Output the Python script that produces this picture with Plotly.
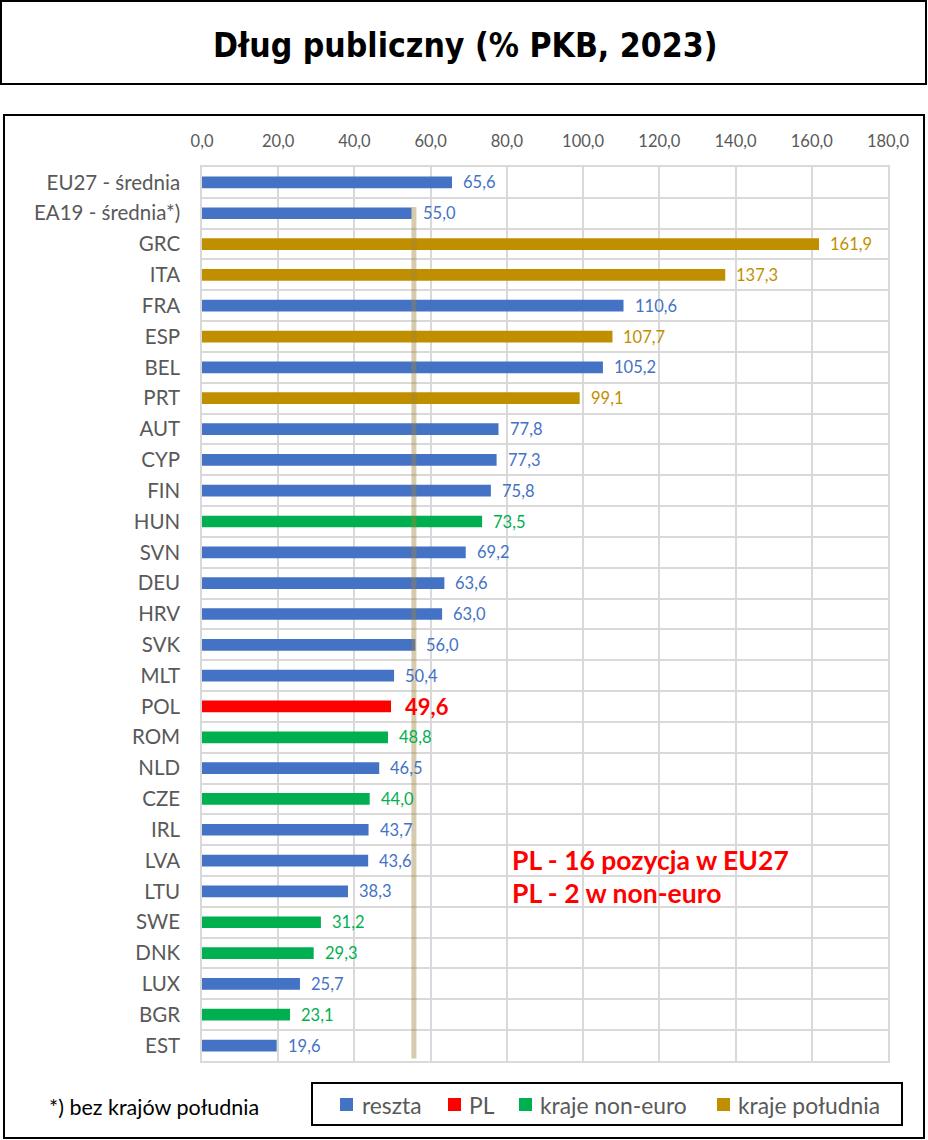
import plotly.graph_objects as go

# ---------------- data ----------------
categories = ["EU27 - średnia", "EA19 - średnia*)", "GRC", "ITA", "FRA", "ESP", "BEL", "PRT",
              "AUT", "CYP", "FIN", "HUN", "SVN", "DEU", "HRV", "SVK", "MLT", "POL", "ROM",
              "NLD", "CZE", "IRL", "LVA", "LTU", "SWE", "DNK", "LUX", "BGR", "EST"]
values = [65.6, 55.0, 161.9, 137.3, 110.6, 107.7, 105.2, 99.1, 77.8, 77.3, 75.8, 73.5, 69.2,
          63.6, 63.0, 56.0, 50.4, 49.6, 48.8, 46.5, 44.0, 43.7, 43.6, 38.3, 31.2, 29.3, 25.7,
          23.1, 19.6]
groups = ["reszta", "reszta", "kraje południa", "kraje południa", "reszta", "kraje południa",
          "reszta", "kraje południa", "reszta", "reszta", "reszta", "kraje non-euro", "reszta",
          "reszta", "reszta", "reszta", "reszta", "PL", "kraje non-euro", "reszta",
          "kraje non-euro", "reszta", "reszta", "reszta", "kraje non-euro", "kraje non-euro",
          "reszta", "kraje non-euro", "reszta"]
group_names = ["reszta", "PL", "kraje non-euro", "kraje południa"]
group_colors = {"reszta": "#4472C4", "PL": "#FF0000", "kraje non-euro": "#00B050",
                "kraje południa": "#BF8F00"}
x_ticks = [0, 20, 40, 60, 80, 100, 120, 140, 160, 180]
ref_line_value = 55.6  # vertical reference band (EA19 level)

title_text = "Dług publiczny (% PKB, 2023)"
note_text = "*) bez krajów południa"
pl_notes = ["PL - 16 pozycja w EU27", "PL - 2 w non-euro"]

# ---------------- layout constants ----------------
W, H = 928, 1140
L, R, T, B = 202, 888, 167, 1061
FONT = "Lato, Calibri, Carlito, sans-serif"
GRAY = "#595959"
GRID = "#D9D9D9"


def px2x(px):
    return (px - L) / (R - L)


def py2y(py):
    return (B - py) / (B - T)


fmt = lambda v: f"{v:.1f}".replace(".", ",")

fig = go.Figure()
for g in group_names:
    ys = [c for c, gg in zip(categories, groups) if gg == g]
    xs = [v for v, gg in zip(values, groups) if gg == g]
    fig.add_trace(go.Bar(x=xs, y=ys, orientation="h", name=g,
                         marker=dict(color=group_colors[g], line=dict(width=0)),
                         showlegend=False, hoverinfo="x+y"))

annotations = []
# value labels
for c, v, g in zip(categories, values, groups):
    if g == "PL":
        font = dict(family=FONT, size=22, color=group_colors[g], weight="bold")
        xs = 12
    else:
        font = dict(family=FONT, size=16.5, color=group_colors[g])
        xs = 9
    annotations.append(dict(x=v, y=c, xref="x", yref="y", text=fmt(v), showarrow=False,
                            xanchor="left", yanchor="middle", xshift=xs, font=font))

# title
annotations.append(dict(x=px2x(465), y=py2y(46), xref="paper", yref="paper", text=title_text,
                        showarrow=False, xanchor="center", yanchor="middle",
                        font=dict(family="DejaVu Sans Condensed, Roboto",
                                  size=33.5, color="black", weight="bold")))
# PL notes
for i, t in enumerate(pl_notes):
    annotations.append(dict(x=px2x(510), y=py2y(860 + 33 * i), xref="paper", yref="paper",
                            text=t, showarrow=False, xanchor="left", yanchor="middle",
                            font=dict(family=FONT, size=26.5, color="#FF0000", weight="bold")))
# footnote
annotations.append(dict(x=px2x(47), y=py2y(1107), xref="paper", yref="paper", text=note_text,
                        showarrow=False, xanchor="left", yanchor="middle",
                        font=dict(family=FONT, size=21.5, color="black")))

shapes = []
# reference band
shapes.append(dict(type="line", xref="x", yref="y", x0=ref_line_value, x1=ref_line_value,
                   y0=0.8, y1=28.42, line=dict(color="rgba(160,130,60,0.42)", width=5),
                   layer="above"))
# boxes
def box(x0, y0, x1, y1, w=2):
    return dict(type="rect", xref="paper", yref="paper", x0=px2x(x0), x1=px2x(x1),
                y0=py2y(y1), y1=py2y(y0), line=dict(color="black", width=w),
                fillcolor="rgba(0,0,0,0)", layer="above")

shapes.append(box(1, 1, 926, 84, 2))
shapes.append(box(4, 115, 924, 1138, 2))
shapes.append(box(312, 1083, 902, 1125, 2))

# manual legend
legend_sq_x = [340, 448, 519, 717]
legend_txt_x = [360, 467, 538, 736]
for g, sx, tx in zip(group_names, legend_sq_x, legend_txt_x):
    shapes.append(dict(type="rect", xref="paper", yref="paper", x0=px2x(sx), x1=px2x(sx + 13),
                       y0=py2y(1111), y1=py2y(1098), fillcolor=group_colors[g],
                       line=dict(width=0)))
    annotations.append(dict(x=px2x(tx), y=py2y(1105), xref="paper", yref="paper", text=g,
                            showarrow=False, xanchor="left", yanchor="middle",
                            font=dict(family=FONT, size=22.8, color=GRAY)))

fig.update_layout(
    width=W, height=H,
    margin=dict(l=L, r=W - R, t=T, b=H - B, pad=0),
    paper_bgcolor="white", plot_bgcolor="white",
    barmode="relative", bargap=0.62,
    separators=", ",
    font=dict(family=FONT, color=GRAY),
    annotations=annotations, shapes=shapes,
    showlegend=False,
)
fig.update_xaxes(side="top", range=[0, 180], tickvals=x_ticks, tickformat=".1f",
                 showgrid=True, gridcolor=GRID, gridwidth=1.5, zeroline=False,
                 showline=True, linecolor=GRID, linewidth=1.5, mirror=True,
                 ticks="", ticklabelstandoff=12, tickfont=dict(family=FONT, size=16.5, color=GRAY),
                 fixedrange=True)
fig.update_yaxes(type="category", categoryorder="array", categoryarray=categories,
                 autorange="reversed", tickson="boundaries", showgrid=True, gridcolor=GRID,
                 gridwidth=1.5, showline=True, linecolor=GRID, linewidth=1.5, mirror=True,
                 ticks="", ticklabelstandoff=16, tickfont=dict(family=FONT, size=20.5, color=GRAY),
                 fixedrange=True)

fig.write_html("out.html")
